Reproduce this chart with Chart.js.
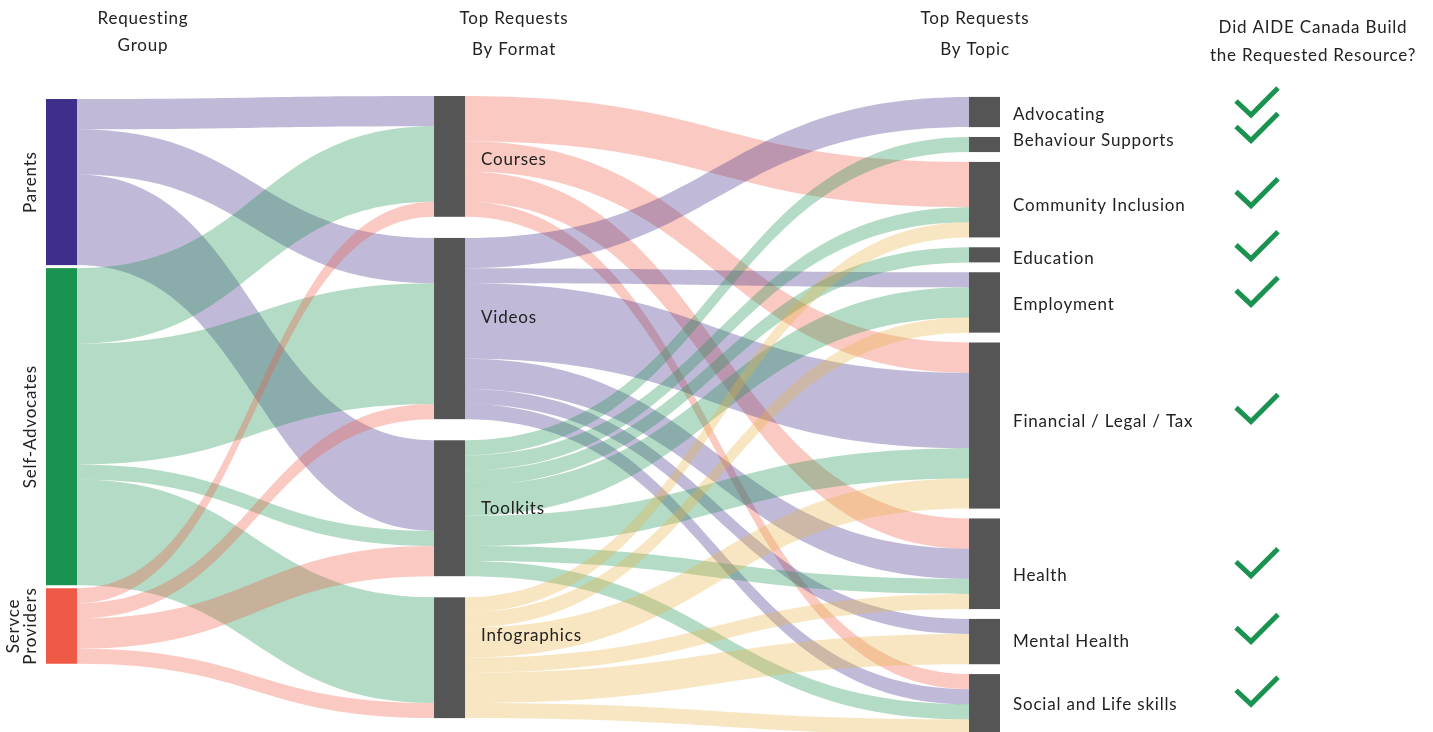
<!DOCTYPE html>
<html>
<head>
<meta charset="utf-8">
<script src="https://cdn.jsdelivr.net/npm/chart.js@4.4.1/dist/chart.umd.min.js"></script>
<style>
  html, body { margin: 0; padding: 0; background: #fff; }
  #wrap { width: 1433px; height: 732px; }
</style>
</head>
<body>
<div id="wrap"><canvas id="sankey" width="1433" height="732"></canvas></div>
<script>
  // Nodes, column by column
  const groups = ['Parents', 'Self-Advocates', 'Servce Providers'];
  const formats = ['Courses', 'Videos', 'Toolkits', 'Infographics'];
  const topics = ['Advocating', 'Behaviour Supports', 'Community Inclusion', 'Education', 'Employment',
    'Financial / Legal / Tax', 'Health', 'Mental Health', 'Social and Life skills'];
  const built = [true, true, true, true, true, true, true, true, true];

  // Requests: group -> format (rows = groups, cols = formats)
  const groupToFormat = [
    [2, 3, 6, 0],
    [5, 8, 1, 7],
    [1, 1, 2, 1]
  ];

  // Requests: format -> topic (rows = formats, cols = topics)
  const formatToTopic = [
    [0, 0, 3, 0, 0, 2, 2, 0, 1],
    [2, 0, 0, 0, 1, 5, 2, 1, 1],
    [0, 1, 1, 1, 2, 2, 1, 0, 1],
    [0, 0, 1, 0, 1, 2, 1, 2, 1]
  ];

  const headers = [
    ['Requesting', 'Group'],
    ['Top Requests', 'By Format'],
    ['Top Requests', 'By Topic'],
    ['Did AIDE Canada Build', 'the Requested Resource?']
  ];

  const groupColors = ['#3F2E8A', '#1B9350', '#EE5A45'];
  const formatLinkColors = ['#EE5A45', '#3F2E8A', '#1B9350', '#E6B444'];
  const NODE_GRAY = '#555555';
  const TEXT = '#222222';
  const CHECK = '#1B9350';
  const FONT = 'Lato, "Open Sans", sans-serif';

  // layout settings (data units on the y scale)
  const colX = [0, 0.4204, 1];
  const colStart = [0.2, 0, 0.06];
  const colGap = [0.2, 1.4, 0.653];
  const NODE_W = 31;
  // label nudges in pixels, the original does not centre every label on its node
  const formatLabelDy = [3, -11, 0, -22];
  const topicLabelDy = [3, -4, 6, 4, 2, -4, 12, 0, 0];

  function sum(a) { return a.reduce(function (s, v) { return s + v; }, 0); }
  function colSums(m) { return m[0].map(function (_, j) { return sum(m.map(function (r) { return r[j]; })); }); }

  function stack(values, start, gap) {
    let cur = start;
    return values.map(function (v) {
      const n = { y0: cur, y1: cur + v };
      cur += v + gap;
      return n;
    });
  }

  function alpha(hex, a) {
    const n = parseInt(hex.slice(1), 16);
    return 'rgba(' + (n >> 16) + ',' + ((n >> 8) & 255) + ',' + (n & 255) + ',' + a + ')';
  }

  const groupNodes = stack(groupToFormat.map(sum), colStart[0], colGap[0]);
  const formatNodes = stack(colSums(groupToFormat), colStart[1], colGap[1]);
  const topicNodes = stack(colSums(formatToTopic), colStart[2], colGap[2]);

  function drawLinks(ctx, chart, matrix, srcNodes, tgtNodes, c, colorOf) {
    const xs = chart.scales.x, ys = chart.scales.y;
    const x0 = xs.getPixelForValue(colX[c]) + NODE_W;
    const x1 = xs.getPixelForValue(colX[c + 1]);
    const xm = (x0 + x1) / 2;
    const tgtOff = tgtNodes.map(function (n) { return n.y0; });
    const srcOff = srcNodes.map(function (n) { return n.y0; });
    // incoming links are stacked in source order
    const tStart = matrix.map(function () { return []; });
    tgtNodes.forEach(function (_, t) {
      matrix.forEach(function (row, s) {
        tStart[s][t] = tgtOff[t];
        tgtOff[t] += row[t];
      });
    });
    matrix.forEach(function (row, s) {
      row.forEach(function (v, t) {
        if (!v) return;
        const a0 = ys.getPixelForValue(srcOff[s]);
        const a1 = ys.getPixelForValue(srcOff[s] + v);
        const b0 = ys.getPixelForValue(tStart[s][t]);
        const b1 = ys.getPixelForValue(tStart[s][t] + v);
        srcOff[s] += v;
        ctx.beginPath();
        ctx.moveTo(x0, a0);
        ctx.bezierCurveTo(xm, a0, xm, b0, x1, b0);
        ctx.lineTo(x1, b1);
        ctx.bezierCurveTo(xm, b1, xm, a1, x0, a1);
        ctx.closePath();
        ctx.fillStyle = alpha(colorOf(s), 0.33);
        ctx.fill();
      });
    });
  }

  function drawNodes(ctx, chart, nodes, c, colorOf) {
    const xs = chart.scales.x, ys = chart.scales.y;
    const x = xs.getPixelForValue(colX[c]);
    nodes.forEach(function (n, i) {
      const y0 = ys.getPixelForValue(n.y0), y1 = ys.getPixelForValue(n.y1);
      ctx.fillStyle = colorOf(i);
      ctx.fillRect(x, y0, NODE_W, y1 - y0);
    });
  }

  function drawCheck(ctx, cx, cy) {
    ctx.save();
    ctx.strokeStyle = CHECK;
    ctx.lineWidth = 5;
    ctx.lineCap = 'butt';
    ctx.lineJoin = 'miter';
    ctx.beginPath();
    ctx.moveTo(cx - 21, cy - 1);
    ctx.lineTo(cx - 6, cy + 13);
    ctx.lineTo(cx + 21, cy - 14);
    ctx.stroke();
    ctx.restore();
  }

  const sankeyPlugin = {
    id: 'sankey',
    beforeDatasetsDraw: function (chart) {
      const ctx = chart.ctx;
      ctx.save();
      drawLinks(ctx, chart, groupToFormat, groupNodes, formatNodes, 0, function (s) { return groupColors[s]; });
      drawLinks(ctx, chart, formatToTopic, formatNodes, topicNodes, 1, function (s) { return formatLinkColors[s]; });
      drawNodes(ctx, chart, groupNodes, 0, function (i) { return groupColors[i]; });
      drawNodes(ctx, chart, formatNodes, 1, function () { return NODE_GRAY; });
      drawNodes(ctx, chart, topicNodes, 2, function () { return NODE_GRAY; });
      ctx.restore();
    },
    afterDraw: function (chart) {
      const ctx = chart.ctx;
      const xs = chart.scales.x, ys = chart.scales.y;
      ctx.save();
      ctx.fillStyle = TEXT;
      ctx.font = '17px ' + FONT;
      ctx.letterSpacing = '0.8px';
      ctx.textBaseline = 'middle';

      // rotated group labels
      const gx = xs.getPixelForValue(colX[0]);
      groups.forEach(function (g, i) {
        const n = groupNodes[i];
        const cy = ys.getPixelForValue((n.y0 + n.y1) / 2);
        const lines = g === 'Servce Providers' ? ['Servce', 'Providers'] : [g];
        lines.forEach(function (line, k) {
          ctx.save();
          ctx.translate(gx - 15 - (lines.length - 1 - k) * 17, cy);
          ctx.rotate(-Math.PI / 2);
          ctx.textAlign = 'center';
          ctx.fillText(line, 0, 0);
          ctx.restore();
        });
      });

      // format labels
      ctx.textAlign = 'left';
      const fx = xs.getPixelForValue(colX[1]) + NODE_W + 16;
      formats.forEach(function (f, i) {
        const n = formatNodes[i];
        ctx.fillText(f, fx, ys.getPixelForValue((n.y0 + n.y1) / 2) + formatLabelDy[i]);
      });

      // topic labels and checks
      const tx = xs.getPixelForValue(colX[2]) + NODE_W + 13;
      topics.forEach(function (t, i) {
        const n = topicNodes[i];
        const cy = ys.getPixelForValue((n.y0 + n.y1) / 2) + topicLabelDy[i];
        ctx.fillText(t, tx, cy);
        if (built[i]) drawCheck(ctx, tx + 244, cy - 13);
      });

      // column headers
      ctx.textAlign = 'center';
      const hx = [143, 514, 975, 1313];
      const hy = [[19, 46], [19, 50], [19, 50], [28, 56]];
      headers.forEach(function (h, i) {
        h.forEach(function (line, k) { ctx.fillText(line, hx[i], hy[i][k]); });
      });
      ctx.restore();
    }
  };

  new Chart(document.getElementById('sankey').getContext('2d'), {
    type: 'scatter',
    data: { datasets: [{ data: [] }] },
    options: {
      responsive: false,
      animation: false,
      layout: { padding: { left: 46, right: 464, top: 96, bottom: 0 } },
      plugins: { legend: { display: false }, tooltip: { enabled: false } },
      scales: {
        x: { type: 'linear', min: 0, max: 1, display: false },
        y: { type: 'linear', min: 0, max: 42.12, reverse: true, display: false }
      }
    },
    plugins: [sankeyPlugin]
  });
</script>
</body>
</html>
